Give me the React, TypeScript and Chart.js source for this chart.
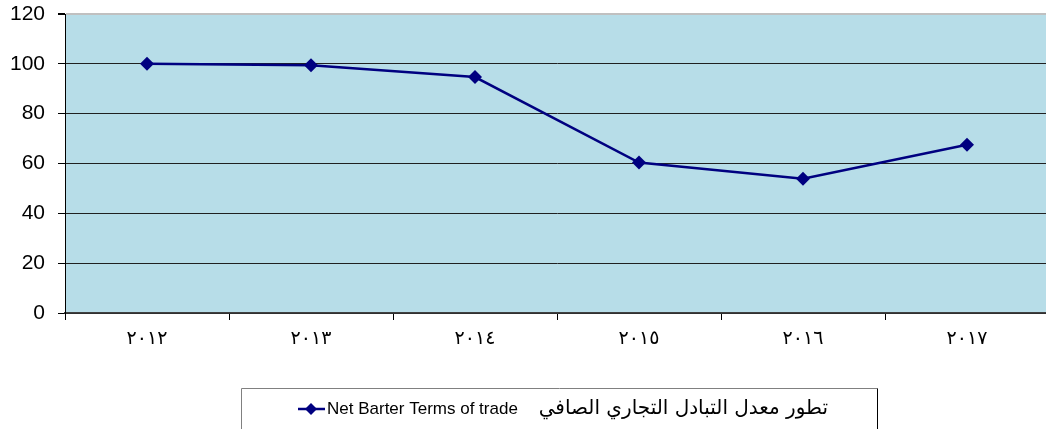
import React, { useEffect, useRef } from "react";
import { Chart, registerables } from "chart.js";

Chart.register(...registerables);

const categories = ["٢٠١٢", "٢٠١٣", "٢٠١٤", "٢٠١٥", "٢٠١٦", "٢٠١٧"];
const netBarterValues = [100, 99.4, 94.7, 60.4, 53.9, 67.5];
const seriesLabelArabic = "تطور معدل التبادل التجاري الصافي";
const seriesLabelEnglish = "Net Barter Terms of trade";
const yTicks = [0, 20, 40, 60, 80, 100, 120];

const LINE_COLOR = "#000080";
const PLOT_BG = "#b7dde8";

const bgPlugin = {
  id: "plotBg",
  beforeDraw(chart: any) {
    const { ctx, chartArea } = chart;
    ctx.save();
    ctx.fillStyle = PLOT_BG;
    ctx.fillRect(chartArea.left, chartArea.top, chartArea.right - chartArea.left, chartArea.bottom - chartArea.top);
    ctx.restore();
  },
};

const legendPlugin = {
  id: "boxLegend",
  afterDraw(chart: any) {
    const { ctx } = chart;
    const left = 241, top = 388, right = 877, bottom = 445;
    ctx.save();
    ctx.lineWidth = 1;
    ctx.strokeStyle = "#808080";
    ctx.beginPath();
    ctx.moveTo(left + 0.5, bottom);
    ctx.lineTo(left + 0.5, top + 0.5);
    ctx.lineTo(right + 0.5, top + 0.5);
    ctx.stroke();
    ctx.strokeStyle = "#000";
    ctx.beginPath();
    ctx.moveTo(right + 0.5, top + 0.5);
    ctx.lineTo(right + 0.5, bottom);
    ctx.stroke();
    const cy = 409;
    // symbol
    ctx.strokeStyle = LINE_COLOR;
    ctx.lineWidth = 2.5;
    ctx.beginPath();
    ctx.moveTo(298, cy);
    ctx.lineTo(325, cy);
    ctx.stroke();
    ctx.fillStyle = LINE_COLOR;
    ctx.beginPath();
    ctx.moveTo(311, cy - 6);
    ctx.lineTo(317, cy);
    ctx.lineTo(311, cy + 6);
    ctx.lineTo(305, cy);
    ctx.closePath();
    ctx.fill();
    // text
    ctx.fillStyle = "#000";
    ctx.textBaseline = "middle";
    ctx.font = "17px 'Liberation Sans', Arial, sans-serif";
    ctx.textAlign = "left";
    ctx.fillText(seriesLabelEnglish, 327, cy);
    ctx.font = "20px 'DejaVu Sans', 'Noto Sans', sans-serif";
    ctx.direction = "rtl";
    ctx.textAlign = "right";
    ctx.fillText(seriesLabelArabic, 828, cy);
    ctx.restore();
  },
};

export default function App() {
  const ref = useRef<HTMLCanvasElement | null>(null);

  useEffect(() => {
    if (!ref.current) return;
    const chart = new Chart(ref.current, {
      type: "line",
      data: {
        labels: categories,
        datasets: [
          {
            label: seriesLabelArabic + "  " + seriesLabelEnglish,
            data: netBarterValues,
            borderColor: LINE_COLOR,
            backgroundColor: LINE_COLOR,
            borderWidth: 2.5,
            pointStyle: "rectRot",
            pointRadius: 7,
            pointHoverRadius: 7,
            pointBorderWidth: 0,
            tension: 0,
          },
        ],
      },
      options: {
        responsive: false,
        animation: false,
        events: [],
        layout: { padding: { left: 0, right: 11, top: 14, bottom: 0 } },
        plugins: {
          legend: { display: false },
          tooltip: { enabled: false },
        },
        scales: {
          x: {
            offset: true,
            grid: {
              offset: true,
              drawOnChartArea: false,
              drawTicks: true,
              tickLength: 7,
              color: "#000",
            },
            border: { display: true, color: "#404040", width: 1.5 },
            ticks: {
              color: "#000",
              padding: 8,
              font: { family: "'DejaVu Sans', 'Noto Sans', sans-serif", size: 19 },
              maxRotation: 0,
            },
            afterFit(scale: any) {
              scale.height = 429 - 313;
              scale.paddingLeft = 0;
              scale.paddingRight = 0;
            },
          },
          y: {
            min: 0,
            max: 120,
            afterBuildTicks(scale: any) {
              scale.ticks = yTicks.map((v) => ({ value: v }));
            },
            grid: {
              color: (c: any) => (c.tick && c.tick.value === 120 ? "#c0c0c0" : "#202020"),
              lineWidth: (c: any) => (c.tick && c.tick.value === 120 ? 2 : 1),
              drawTicks: true,
              tickLength: 7,
              tickColor: "#000",
            },
            border: { display: true, color: "#000", width: 1 },
            ticks: {
              color: "#000",
              padding: 13,
              font: { family: "'Liberation Sans', Arial, sans-serif", size: 21 },
            },
            afterFit(scale: any) {
              scale.width = 65;
              scale.paddingTop = 0;
              scale.paddingBottom = 0;
            },
          },
        },
      },
      plugins: [bgPlugin, legendPlugin],
    });
    return () => chart.destroy();
  }, []);

  return (
    <div
      style={{
        position: "fixed",
        left: 0,
        top: 0,
        width: 1046,
        height: 429,
        overflow: "hidden",
        background: "#fff",
      }}
    >
      <canvas ref={ref} width={1060} height={429} style={{ display: "block" }} />
    </div>
  );
}
